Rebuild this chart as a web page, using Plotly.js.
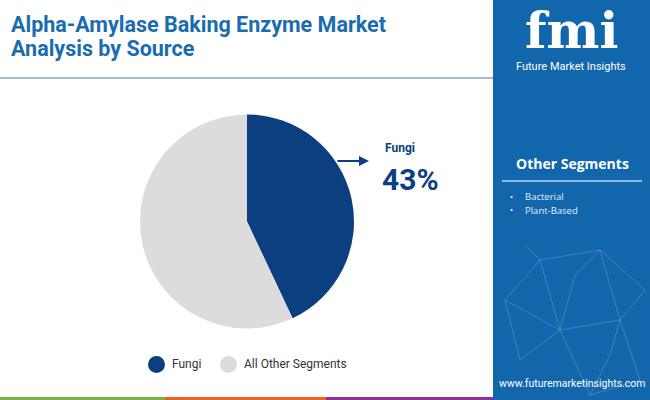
<!DOCTYPE html>
<html>
<head>
<meta charset="utf-8">
<script src="https://cdn.plot.ly/plotly-3.0.1.min.js"></script>
<style>
  html, body { margin: 0; padding: 0; background: #ffffff; }
  #chart { width: 650px; height: 400px; }
</style>
</head>
<body>
<div id="chart"></div>
<script>
// data
var labels = ['Fungi', 'All Other Segments'];
var shares = [43, 57];
var sliceColors = ['#0b3f7f', '#dcdcdc'];
var otherSegments = ['Bacterial', 'Plant-Based'];
var titleLines = ['Alpha-Amylase Baking Enzyme Market', 'Analysis by Source'];

var W = 650, H = 400;
function px(x) { return x / W; }
function py(y) { return 1 - y / H; }

var panelBlue = '#1266ab';
var titleBlue = '#1a6cb0';

var trace = {
  type: 'pie',
  labels: labels,
  values: shares,
  marker: { colors: sliceColors, line: { width: 0 } },
  sort: false,
  direction: 'clockwise',
  rotation: 0,
  textinfo: 'none',
  hoverinfo: 'label+percent',
  showlegend: false,
  domain: { x: [px(140), px(354)], y: [py(329), py(114)] }
};

var shapes = [
  // right panel
  { type: 'rect', xref: 'paper', yref: 'paper', x0: px(493), x1: 1, y0: 0, y1: 1,
    fillcolor: panelBlue, line: { width: 0 }, layer: 'below' },
  // rule under title
  { type: 'line', xref: 'paper', yref: 'paper', x0: 0, x1: px(493), y0: py(78), y1: py(78),
    line: { color: '#a7bccb', width: 2 } },
  // bottom colour strip
  { type: 'rect', xref: 'paper', yref: 'paper', x0: 0, x1: px(165), y0: 0, y1: py(397),
    fillcolor: '#7cb342', line: { width: 0 } },
  { type: 'rect', xref: 'paper', yref: 'paper', x0: px(165), x1: px(326), y0: 0, y1: py(397),
    fillcolor: '#e8612c', line: { width: 0 } },
  { type: 'rect', xref: 'paper', yref: 'paper', x0: px(326), x1: px(493), y0: 0, y1: py(397),
    fillcolor: '#8e3393', line: { width: 0 } },
  // line under "Other Segments"
  { type: 'line', xref: 'paper', yref: 'paper', x0: px(502), x1: px(642), y0: py(181), y1: py(181),
    line: { color: '#8fb8dc', width: 2 } }
];

// faint network decoration in the panel
var net = [[505,300,540,260],[540,260,600,250],[600,250,645,290],[540,260,560,330],[560,330,620,320],
           [620,320,645,290],[505,300,560,330],[560,330,590,395],[620,320,640,380],[600,250,620,320],
           [520,360,560,330],[520,360,505,300],[590,395,640,380],[525,245,540,260],[575,275,600,250],
           [575,275,560,330],[610,355,620,320],[610,355,590,395]];
net.forEach(function (s) {
  shapes.push({ type: 'line', xref: 'paper', yref: 'paper', x0: px(s[0]), y0: py(s[1]), x1: px(s[2]), y1: py(s[3]),
    line: { color: 'rgba(170,210,240,0.28)', width: 1 } });
});

// legend circles
shapes.push({ type: 'circle', xref: 'paper', yref: 'paper', x0: px(148), x1: px(165), y0: py(373), y1: py(356),
  fillcolor: sliceColors[0], line: { width: 0 } });
shapes.push({ type: 'circle', xref: 'paper', yref: 'paper', x0: px(220), x1: px(237), y0: py(373), y1: py(356),
  fillcolor: sliceColors[1], line: { width: 0 } });

var annotations = [
  { text: '<b>' + titleLines[0] + '</b>', x: px(9), y: py(24),
    xanchor: 'left', yanchor: 'middle', align: 'left', showarrow: false,
    font: { family: 'Roboto', size: 21.5, color: titleBlue } },
  { text: '<b>' + titleLines[1] + '</b>', x: px(9), y: py(48),
    xanchor: 'left', yanchor: 'middle', align: 'left', showarrow: false,
    font: { family: 'Roboto', size: 21.5, color: titleBlue } },
  // callout arrow
  { x: px(369), y: py(161), ax: px(336), ay: py(161), xref: 'paper', yref: 'paper', axref: 'paper', ayref: 'paper',
    text: '', showarrow: true, arrowhead: 2, arrowsize: 1, arrowwidth: 2, arrowcolor: sliceColors[0] },
  { text: '<b>' + labels[0] + '</b>', x: px(383), y: py(148), xanchor: 'left', yanchor: 'middle', showarrow: false,
    font: { family: 'Roboto', size: 12, color: sliceColors[0] } },
  { text: '<b>' + shares[0] + '%</b>', x: px(380), y: py(180), xanchor: 'left', yanchor: 'middle', showarrow: false,
    font: { family: 'Roboto', size: 30, color: sliceColors[0] } },
  // legend text
  { text: labels[0], x: px(170), y: py(364), xanchor: 'left', yanchor: 'middle', showarrow: false,
    font: { family: 'Roboto', size: 12, color: '#333333' } },
  { text: labels[1], x: px(242), y: py(364), xanchor: 'left', yanchor: 'middle', showarrow: false,
    font: { family: 'Roboto', size: 12, color: '#333333' } },
  // panel texts
  { text: '<b>fmi</b>', x: px(571), y: 1, xanchor: 'center', yanchor: 'top', borderpad: 0, showarrow: false,
    font: { family: 'DejaVu Serif', size: 50, color: '#ffffff' } },
  { text: 'Future Market Insights', x: px(571), y: py(66), xanchor: 'center', yanchor: 'middle', showarrow: false,
    font: { family: 'Roboto', size: 11, color: '#ffffff' } },
  { text: '<b>Other Segments</b>', x: px(572), y: py(163), xanchor: 'center', yanchor: 'middle', showarrow: false,
    font: { family: 'Open Sans', size: 14, color: '#ffffff' } },
  { text: 'www.futuremarketinsights.com', x: px(572), y: py(383), xanchor: 'center', yanchor: 'middle', showarrow: false,
    font: { family: 'Roboto', size: 10.5, color: '#ffffff' } }
];

otherSegments.forEach(function (name, i) {
  annotations.push({ text: '•', x: px(511), y: py(197 + i * 13), xanchor: 'center', yanchor: 'middle', showarrow: false,
    font: { family: 'Roboto', size: 9, color: '#ffffff' } });
  annotations.push({ text: name, x: px(523), y: py(197 + i * 13), xanchor: 'left', yanchor: 'middle', showarrow: false,
    font: { family: 'Open Sans', size: 9.5, color: '#e6f0f8' } });
});

var layout = {
  width: W, height: H,
  margin: { l: 0, r: 0, t: 0, b: 0 },
  paper_bgcolor: '#ffffff',
  plot_bgcolor: '#ffffff',
  showlegend: false,
  shapes: shapes,
  annotations: annotations
};

Plotly.newPlot('chart', [trace], layout, { displayModeBar: false, staticPlot: true });
</script>
</body>
</html>
